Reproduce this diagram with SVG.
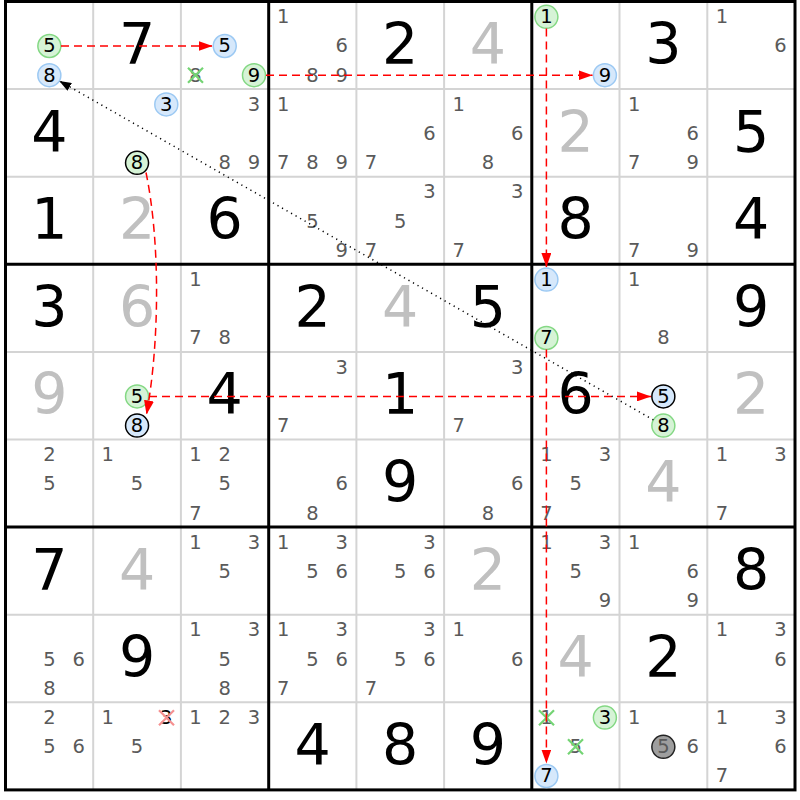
<svg xmlns="http://www.w3.org/2000/svg" width="800" height="800" viewBox="0 0 800 800">
<style>
text{font-family:"DejaVu Sans","Verdana",sans-serif;text-anchor:middle}
.c{font-size:19.5px;fill:#5a5a5a}
.k{font-size:57px;fill:#000}
.g{font-size:57px;fill:#c0c0c0}
.m{font-size:19.5px;fill:#000}
.thin{stroke:#d4d4d4;stroke-width:2}
.thick{stroke:#000;stroke-width:3}
.cg{fill:#d6f3d6;stroke:#84d884;stroke-width:1.5}
.cb{fill:#d6e8fb;stroke:#9cc9f3;stroke-width:1.5}
.kg{fill:#d6f3d6;stroke:#000;stroke-width:1.5}
.kb{fill:#d6e8fb;stroke:#000;stroke-width:1.5}
.kd{fill:#9e9e9e;stroke:#222;stroke-width:1.5}
.xg{stroke:#74d474;stroke-width:2.2}
.xr{stroke:#f59090;stroke-width:2.2}
.red{fill:none;stroke:#f00;stroke-width:1.5;stroke-dasharray:8 5;marker-end:url(#ar)}
.dot{fill:none;stroke:#000;stroke-width:1.5;stroke-dasharray:1.2 4;marker-end:url(#ak)}
</style>
<defs>
<marker id="ar" markerUnits="userSpaceOnUse" viewBox="0 0 14 10" refX="14" refY="5" markerWidth="14" markerHeight="10" orient="auto"><path d="M0,0 L14,5 L0,10 Z" fill="#f00"/></marker>
<marker id="ak" markerUnits="userSpaceOnUse" viewBox="0 0 12 9" refX="12" refY="4.5" markerWidth="12" markerHeight="9" orient="auto"><path d="M0,0 L12,4.5 L0,9 Z" fill="#000"/></marker>
</defs>
<rect width="800" height="800" fill="#fff"/>
<g id="grid">
<path class="thin" d="M93.2,1.5V789.9M180.9,1.5V789.9M356.4,1.5V789.9M444.1,1.5V789.9M619.5,1.5V789.9M707.3,1.5V789.9M5.5,89.1H795M5.5,176.7H795M5.5,351.9H795M5.5,439.5H795M5.5,614.7H795M5.5,702.3H795"/>
<path class="thick" d="M268.7,1.5V789.9M531.8,1.5V789.9M5.5,264.3H795M5.5,527.1H795"/>
<rect x="5.5" y="1.5" width="789.5" height="788.4" fill="none" stroke="#000" stroke-width="3"/>
</g>
<g transform="translate(0,0.7)">
<g id="r1c1"><circle class="cg" cx="49.35" cy="45.3" r="11.5"/><text class="m" x="49.35" y="51.8">5</text><circle class="cb" cx="49.35" cy="74.5" r="11.5"/><text class="m" x="49.35" y="81">8</text></g>
<g id="r1c2"><text class="k" x="137.05" y="63.3">7</text></g>
<g id="r1c3"><circle class="cb" cx="224.75" cy="45.3" r="11.5"/><text class="m" x="224.75" y="51.8">5</text><text class="c" x="195.5" y="81">8</text><path class="xg" d="M188,67L203,82M203,67L188,82"/><circle class="cg" cx="254" cy="74.5" r="11.5"/><text class="m" x="254" y="81">9</text></g>
<g id="r1c4"><text class="c" x="283.3" y="22.6">1</text><text class="c" x="341.8" y="51.8">6</text><text class="c" x="312.55" y="81">8</text><text class="c" x="341.8" y="81">9</text></g>
<g id="r1c5"><text class="k" x="400.25" y="63.3">2</text></g>
<g id="r1c6"><text class="g" x="487.95" y="63.3">4</text></g>
<g id="r1c7"><circle class="cg" cx="546.4" cy="16.1" r="11.5"/><text class="m" x="546.4" y="22.6">1</text><circle class="cb" cx="604.9" cy="74.5" r="11.5"/><text class="m" x="604.9" y="81">9</text></g>
<g id="r1c8"><text class="k" x="663.35" y="63.3">3</text></g>
<g id="r1c9"><text class="c" x="721.9" y="22.6">1</text><text class="c" x="780.4" y="51.8">6</text></g>
<g id="r2c1"><text class="k" x="49.35" y="150.9">4</text></g>
<g id="r2c2"><circle class="cb" cx="166.3" cy="103.7" r="11.5"/><text class="m" x="166.3" y="110.2">3</text><circle class="kg" cx="137.05" cy="162.1" r="11.5"/><text class="m" x="137.05" y="168.6">8</text></g>
<g id="r2c3"><text class="c" x="254" y="110.2">3</text><text class="c" x="224.75" y="168.6">8</text><text class="c" x="254" y="168.6">9</text></g>
<g id="r2c4"><text class="c" x="283.3" y="110.2">1</text><text class="c" x="283.3" y="168.6">7</text><text class="c" x="312.55" y="168.6">8</text><text class="c" x="341.8" y="168.6">9</text></g>
<g id="r2c5"><text class="c" x="429.5" y="139.4">6</text><text class="c" x="371" y="168.6">7</text></g>
<g id="r2c6"><text class="c" x="458.7" y="110.2">1</text><text class="c" x="517.2" y="139.4">6</text><text class="c" x="487.95" y="168.6">8</text></g>
<g id="r2c7"><text class="g" x="575.65" y="150.9">2</text></g>
<g id="r2c8"><text class="c" x="634.1" y="110.2">1</text><text class="c" x="692.6" y="139.4">6</text><text class="c" x="634.1" y="168.6">7</text><text class="c" x="692.6" y="168.6">9</text></g>
<g id="r2c9"><text class="k" x="751.15" y="150.9">5</text></g>
<g id="r3c1"><text class="k" x="49.35" y="238.5">1</text></g>
<g id="r3c2"><text class="g" x="137.05" y="238.5">2</text></g>
<g id="r3c3"><text class="k" x="224.75" y="238.5">6</text></g>
<g id="r3c4"><text class="c" x="312.55" y="227">5</text><text class="c" x="341.8" y="256.2">9</text></g>
<g id="r3c5"><text class="c" x="429.5" y="197.8">3</text><text class="c" x="400.25" y="227">5</text><text class="c" x="371" y="256.2">7</text></g>
<g id="r3c6"><text class="c" x="517.2" y="197.8">3</text><text class="c" x="458.7" y="256.2">7</text></g>
<g id="r3c7"><text class="k" x="575.65" y="238.5">8</text></g>
<g id="r3c8"><text class="c" x="634.1" y="256.2">7</text><text class="c" x="692.6" y="256.2">9</text></g>
<g id="r3c9"><text class="k" x="751.15" y="238.5">4</text></g>
<g id="r4c1"><text class="k" x="49.35" y="326.1">3</text></g>
<g id="r4c2"><text class="g" x="137.05" y="326.1">6</text></g>
<g id="r4c3"><text class="c" x="195.5" y="285.4">1</text><text class="c" x="195.5" y="343.8">7</text><text class="c" x="224.75" y="343.8">8</text></g>
<g id="r4c4"><text class="k" x="312.55" y="326.1">2</text></g>
<g id="r4c5"><text class="g" x="400.25" y="326.1">4</text></g>
<g id="r4c6"><text class="k" x="487.95" y="326.1">5</text></g>
<g id="r4c7"><circle class="cb" cx="546.4" cy="278.9" r="11.5"/><text class="m" x="546.4" y="285.4">1</text><circle class="cg" cx="546.4" cy="337.3" r="11.5"/><text class="m" x="546.4" y="343.8">7</text></g>
<g id="r4c8"><text class="c" x="634.1" y="285.4">1</text><text class="c" x="663.35" y="343.8">8</text></g>
<g id="r4c9"><text class="k" x="751.15" y="326.1">9</text></g>
<g id="r5c1"><text class="g" x="49.35" y="413.7">9</text></g>
<g id="r5c2"><circle class="cg" cx="137.05" cy="395.7" r="11.5"/><text class="m" x="137.05" y="402.2">5</text><circle class="kb" cx="137.05" cy="424.9" r="11.5"/><text class="m" x="137.05" y="431.4">8</text></g>
<g id="r5c3"><text class="k" x="224.75" y="413.7">4</text></g>
<g id="r5c4"><text class="c" x="341.8" y="373">3</text><text class="c" x="283.3" y="431.4">7</text></g>
<g id="r5c5"><text class="k" x="400.25" y="413.7">1</text></g>
<g id="r5c6"><text class="c" x="517.2" y="373">3</text><text class="c" x="458.7" y="431.4">7</text></g>
<g id="r5c7"><text class="k" x="575.65" y="413.7">6</text></g>
<g id="r5c8"><circle class="kb" cx="663.35" cy="395.7" r="11.5"/><text class="m" x="663.35" y="402.2">5</text><circle class="cg" cx="663.35" cy="424.9" r="11.5"/><text class="m" x="663.35" y="431.4">8</text></g>
<g id="r5c9"><text class="g" x="751.15" y="413.7">2</text></g>
<g id="r6c1"><text class="c" x="49.35" y="460.6">2</text><text class="c" x="49.35" y="489.8">5</text></g>
<g id="r6c2"><text class="c" x="107.8" y="460.6">1</text><text class="c" x="137.05" y="489.8">5</text></g>
<g id="r6c3"><text class="c" x="195.5" y="460.6">1</text><text class="c" x="224.75" y="460.6">2</text><text class="c" x="224.75" y="489.8">5</text><text class="c" x="195.5" y="519">7</text></g>
<g id="r6c4"><text class="c" x="341.8" y="489.8">6</text><text class="c" x="312.55" y="519">8</text></g>
<g id="r6c5"><text class="k" x="400.25" y="501.3">9</text></g>
<g id="r6c6"><text class="c" x="517.2" y="489.8">6</text><text class="c" x="487.95" y="519">8</text></g>
<g id="r6c7"><text class="c" x="546.4" y="460.6">1</text><text class="c" x="604.9" y="460.6">3</text><text class="c" x="575.65" y="489.8">5</text><text class="c" x="546.4" y="519">7</text></g>
<g id="r6c8"><text class="g" x="663.35" y="501.3">4</text></g>
<g id="r6c9"><text class="c" x="721.9" y="460.6">1</text><text class="c" x="780.4" y="460.6">3</text><text class="c" x="721.9" y="519">7</text></g>
<g id="r7c1"><text class="k" x="49.35" y="588.9">7</text></g>
<g id="r7c2"><text class="g" x="137.05" y="588.9">4</text></g>
<g id="r7c3"><text class="c" x="195.5" y="548.2">1</text><text class="c" x="254" y="548.2">3</text><text class="c" x="224.75" y="577.4">5</text></g>
<g id="r7c4"><text class="c" x="283.3" y="548.2">1</text><text class="c" x="341.8" y="548.2">3</text><text class="c" x="312.55" y="577.4">5</text><text class="c" x="341.8" y="577.4">6</text></g>
<g id="r7c5"><text class="c" x="429.5" y="548.2">3</text><text class="c" x="400.25" y="577.4">5</text><text class="c" x="429.5" y="577.4">6</text></g>
<g id="r7c6"><text class="g" x="487.95" y="588.9">2</text></g>
<g id="r7c7"><text class="c" x="546.4" y="548.2">1</text><text class="c" x="604.9" y="548.2">3</text><text class="c" x="575.65" y="577.4">5</text><text class="c" x="604.9" y="606.6">9</text></g>
<g id="r7c8"><text class="c" x="634.1" y="548.2">1</text><text class="c" x="692.6" y="577.4">6</text><text class="c" x="692.6" y="606.6">9</text></g>
<g id="r7c9"><text class="k" x="751.15" y="588.9">8</text></g>
<g id="r8c1"><text class="c" x="49.35" y="665">5</text><text class="c" x="78.6" y="665">6</text><text class="c" x="49.35" y="694.2">8</text></g>
<g id="r8c2"><text class="k" x="137.05" y="676.5">9</text></g>
<g id="r8c3"><text class="c" x="195.5" y="635.8">1</text><text class="c" x="254" y="635.8">3</text><text class="c" x="224.75" y="665">5</text><text class="c" x="224.75" y="694.2">8</text></g>
<g id="r8c4"><text class="c" x="283.3" y="635.8">1</text><text class="c" x="341.8" y="635.8">3</text><text class="c" x="312.55" y="665">5</text><text class="c" x="341.8" y="665">6</text><text class="c" x="283.3" y="694.2">7</text></g>
<g id="r8c5"><text class="c" x="429.5" y="635.8">3</text><text class="c" x="400.25" y="665">5</text><text class="c" x="429.5" y="665">6</text><text class="c" x="371" y="694.2">7</text></g>
<g id="r8c6"><text class="c" x="458.7" y="635.8">1</text><text class="c" x="517.2" y="665">6</text></g>
<g id="r8c7"><text class="g" x="575.65" y="676.5">4</text></g>
<g id="r8c8"><text class="k" x="663.35" y="676.5">2</text></g>
<g id="r8c9"><text class="c" x="721.9" y="635.8">1</text><text class="c" x="780.4" y="635.8">3</text><text class="c" x="780.4" y="665">6</text></g>
<g id="r9c1"><text class="c" x="49.35" y="723.4">2</text><text class="c" x="49.35" y="752.6">5</text><text class="c" x="78.6" y="752.6">6</text></g>
<g id="r9c2"><text class="c" x="107.8" y="723.4">1</text><text class="c" x="137.05" y="752.6">5</text><text class="m" x="166.3" y="723.4">3</text><path class="xr" d="M159,709.5L174,724.5M174,709.5L159,724.5"/></g>
<g id="r9c3"><text class="c" x="195.5" y="723.4">1</text><text class="c" x="224.75" y="723.4">2</text><text class="c" x="254" y="723.4">3</text></g>
<g id="r9c4"><text class="k" x="312.55" y="764.1">4</text></g>
<g id="r9c5"><text class="k" x="400.25" y="764.1">8</text></g>
<g id="r9c6"><text class="k" x="487.95" y="764.1">9</text></g>
<g id="r9c7"><text class="c" x="546.4" y="723.4">1</text><path class="xg" d="M539,709.5L554,724.5M554,709.5L539,724.5"/><circle class="cg" cx="604.9" cy="716.9" r="11.5"/><text class="m" x="604.9" y="723.4">3</text><text class="c" x="575.65" y="752.6">5</text><path class="xg" d="M568,738.6L583,753.6M583,738.6L568,753.6"/><circle class="cb" cx="546.4" cy="775.3" r="11.5"/><text class="m" x="546.4" y="781.8">7</text></g>
<g id="r9c8"><text class="c" x="634.1" y="723.4">1</text><circle class="kd" cx="663.35" cy="746.1" r="11.5"/><text class="c" x="663.35" y="752.6">5</text><text class="c" x="692.6" y="752.6">6</text></g>
<g id="r9c9"><text class="c" x="721.9" y="723.4">1</text><text class="c" x="780.4" y="723.4">3</text><text class="c" x="780.4" y="752.6">6</text><text class="c" x="721.9" y="781.8">7</text></g>
</g>
<g id="connectors">
<path class="red" d="M61,46H212.5"/>
<path class="red" d="M266,75.2H592.5"/>
<path class="red" d="M546.4,28.5V267"/>
<path class="red" d="M146,172.5C160,240 160,340 146.5,414.5"/>
<path class="red" d="M546.4,349.5V763.5"/>
<path class="red" d="M149,396.4H651"/>
<path class="dot" d="M653.4,419.9L59.3,80.9"/>
</g>
</svg>
